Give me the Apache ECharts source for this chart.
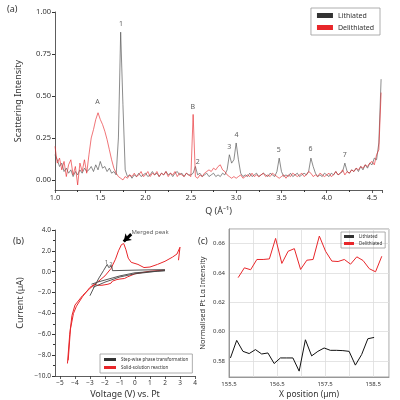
<!DOCTYPE html>
<html><head><meta charset="utf-8">
<script src="https://cdn.jsdelivr.net/npm/echarts@6/dist/echarts.min.js"></script>
<style>html,body{margin:0;padding:0;background:#fff}#c{width:400px;height:400px}</style>
</head><body><div id="c"></div>
<script>
// (a) regular Q sampling, step 0.025 from 1.0 to 4.6
const qs = Array.from({length:145},(_,i)=>+(1+0.025*i).toFixed(3));
const lithA = [
0.15,0.12,0.08,0.10,0.05,0.07,0.04,0.06,0.02,0.05,
0.03,0.06,0.04,0.07,0.05,0.06,0.08,0.05,0.09,0.06,
0.11,0.07,0.08,0.05,0.07,0.04,0.05,0.03,0.25,0.88,
0.45,0.06,0.02,0.03,0.01,0.03,0.02,0.04,0.02,0.03,
0.04,0.02,0.03,0.05,0.03,0.04,0.02,0.04,0.03,0.05,
0.03,0.04,0.02,0.04,0.05,0.03,0.04,0.02,0.04,0.03,
0.03,0.04,0.08,0.03,0.04,0.02,0.03,0.04,0.02,0.03,
0.04,0.02,0.03,0.02,0.04,0.03,0.06,0.15,0.10,0.12,
0.22,0.12,0.04,0.02,0.03,0.02,0.04,0.02,0.03,0.04,
0.02,0.03,0.04,0.03,0.02,0.04,0.03,0.02,0.05,0.13,
0.05,0.02,0.03,0.02,0.04,0.02,0.03,0.04,0.02,0.03,
0.04,0.03,0.05,0.13,0.08,0.04,0.02,0.03,0.02,0.04,
0.03,0.02,0.04,0.03,0.05,0.03,0.04,0.05,0.10,0.05,
0.04,0.06,0.05,0.07,0.05,0.08,0.06,0.09,0.07,0.10,
0.09,0.13,0.12,0.22,0.60];
const delithA = [
0.20,0.10,0.13,0.06,0.11,0.02,0.09,0.12,0.03,0.08,
-0.03,0.10,0.05,0.12,0.04,0.15,0.25,0.30,0.36,0.40,
0.36,0.33,0.29,0.24,0.18,0.12,0.07,0.04,0.02,0.01,
0.00,0.02,0.01,0.03,0.02,0.04,0.02,0.03,0.05,0.02,
0.03,0.05,0.02,0.04,0.03,0.05,0.02,0.04,0.03,0.05,
0.02,0.04,0.03,0.05,0.02,0.04,0.03,0.02,0.04,0.03,
0.02,0.39,0.02,0.01,0.03,0.02,0.04,0.05,0.06,0.05,
0.07,0.06,0.08,0.09,0.06,0.05,0.03,0.02,0.01,0.02,
0.01,0.02,0.03,0.01,0.02,0.03,0.02,0.04,0.02,0.03,
0.02,0.03,0.04,0.02,0.03,0.02,0.04,0.03,0.02,0.01,
0.02,0.03,0.01,0.03,0.02,0.04,0.03,0.02,0.03,0.04,
0.02,0.03,0.05,0.04,0.02,0.03,0.02,0.04,0.03,0.02,
0.03,0.04,0.02,0.03,0.05,0.03,0.04,0.06,0.03,0.05,
0.04,0.06,0.05,0.07,0.06,0.08,0.07,0.09,0.08,0.10,
0.11,0.09,0.15,0.18,0.52];
const peakNames = ['A','1','B','2','3','4','5','6','7'];
const peakQ = [1.47,1.73,2.52,2.575,2.925,3.005,3.47,3.82,4.2];
const peakY = [0.44,0.90,0.41,0.08,0.17,0.24,0.15,0.16,0.12];

// (b) cyclic voltammetry
const voltTicks = [-5,-4,-3,-2,-1,0,1,2,3,4];
const redCV1 = [[-4.5,-8.8],[-4.35,-6.0],[-4.2,-4.2],[-4.0,-3.2],[-3.5,-2.3],[-3.0,-1.6],[-2.5,-1.0],[-2.0,-0.4],[-1.6,0.3],[-1.3,1.2],[-1.1,2.0],[-0.9,2.6],[-0.75,2.7],[-0.6,2.1],[-0.45,1.3],[-0.25,0.9],[0.2,0.7],[0.6,0.4],[1.0,0.45],[1.5,0.7],[2.0,1.0],[2.5,1.4],[2.8,1.7],[3.0,2.35],[2.9,1.1]];
const redCV2 = [[2.0,0.15],[1.0,0.05],[0.0,-0.2],[-0.5,-0.5],[-0.7,-0.65],[-1.0,-0.7],[-1.2,-0.75],[-1.5,-0.9],[-1.6,-1.1],[-1.8,-1.2],[-2.2,-1.3],[-2.5,-1.3],[-2.7,-1.2],[-3.0,-1.5],[-3.5,-2.4],[-3.9,-3.3],[-4.1,-4.0],[-4.3,-5.5],[-4.45,-8.5]];
const blackCV1 = [[-3.0,-2.3],[-2.7,-1.4],[-2.4,-0.6],[-2.1,0.1],[-1.85,0.7],[-1.75,0.4],[-1.65,0.3],[-1.55,0.55],[-1.5,0.1],[0,0.15],[1.0,0.18],[2.0,0.2]];
const blackCV2 = [[2.0,0.1],[1.0,0.0],[0.0,-0.1],[-1.0,-0.4],[-2.0,-0.8],[-2.5,-1.0],[-2.9,-1.2]];
const blackCV3 = [[-2.8,-1.5],[-2.0,-1.0],[-1.0,-0.5],[0,-0.2],[1.5,0.05],[2.0,0.1]];
const cvLabels = [['1',-1.9,0.95],['2',-1.6,0.7],['Merged peak',1.0,3.75]];

// (c) Pt La intensity
const xRed = [155.69,155.82,155.95,156.08,156.21,156.34,156.47,156.60,156.73,156.86,156.99,157.12,157.25,157.38,157.51,157.64,157.77,157.90,158.03,158.16,158.29,158.42,158.55,158.68];
const redC = [0.6368,0.6435,0.6422,0.6492,0.6492,0.6496,0.6636,0.6465,0.6548,0.6566,0.6424,0.6487,0.6492,0.6652,0.6548,0.6481,0.6478,0.6492,0.6460,0.6510,0.6485,0.6429,0.6408,0.6514];
const xBlack = [155.53,155.66,155.79,155.92,156.05,156.18,156.31,156.44,156.57,156.70,156.83,156.96,157.09,157.22,157.35,157.48,157.61,157.74,157.87,158.00,158.13,158.26,158.39,158.52];
const blackC = [0.5820,0.5940,0.5865,0.5850,0.5877,0.5847,0.5854,0.5782,0.5820,0.5820,0.5820,0.5730,0.5944,0.5834,0.5865,0.5888,0.5872,0.5872,0.5870,0.5865,0.5771,0.5843,0.5951,0.5960];

const F = 'Noto Sans';
const RED = '#e8262a', BLK = '#333';
const minus = s => String(s).replace('-', '\u2212');
const axLine = {onZero:false,lineStyle:{color:'#333',width:0.8}};
const tick = {length:3,lineStyle:{color:'#333',width:0.8}};
const lab = {color:'#333',fontSize:7.5,fontFamily:F,margin:4};

const chart = echarts.init(document.getElementById('c'));
chart.setOption({
  animation:false,
  textStyle:{fontFamily:F},
  title:[
    {text:'(a)',left:2,top:0,textStyle:{fontSize:9,fontWeight:'normal',color:'#333'}},
    {text:'(b)',left:8,top:232,textStyle:{fontSize:9,fontWeight:'normal',color:'#333'}},
    {text:'(c)',left:193,top:232,textStyle:{fontSize:9,fontWeight:'normal',color:'#333'}}
  ],
  legend:[
    {data:['Lithiated','Delithiated'],orient:'vertical',right:20,top:8,itemWidth:16,itemHeight:5,itemGap:5,
     borderColor:'#999',borderWidth:0.8,padding:[4,6],icon:'rect',textStyle:{fontSize:7,color:'#333'}},
    {data:['Step-wise phase transformation','Solid-solution reaction'],orient:'vertical',left:100,top:354,itemWidth:12,itemHeight:3,itemGap:3,
     borderColor:'#999',borderWidth:0.8,padding:[3,4],icon:'rect',textStyle:{fontSize:4.5,color:'#333'}},
    {data:['Lithiated','Delithiated'],orient:'vertical',left:341,top:232,itemWidth:10,itemHeight:3,itemGap:2,
     borderColor:'#999',borderWidth:0.8,padding:[2,3],icon:'rect',textStyle:{fontSize:4.5,color:'#333'}}
  ],
  grid:[
    {left:55,right:18,top:12,bottom:210},
    {left:55,right:205,top:230,bottom:21},
    {left:229,right:11,top:229,bottom:22,show:true,borderColor:'#888',borderWidth:0.8}
  ],
  xAxis:[
    {gridIndex:0,type:'value',min:1.0,max:4.61,interval:0.5,axisLine:axLine,axisTick:tick,
     minorTick:{show:true,splitNumber:2,length:2},splitLine:{show:false},
     axisLabel:Object.assign({},lab,{showMaxLabel:false,formatter:v=>v.toFixed(1)}),
     name:'Q (Å\u207B\u00B9)',nameLocation:'middle',nameGap:17,nameTextStyle:{fontSize:9,color:'#333'}},
    {gridIndex:1,type:'value',min:-5.33,max:4,axisLine:axLine,
     axisTick:Object.assign({customValues:voltTicks},tick),splitLine:{show:false},
     axisLabel:Object.assign({},lab,{fontSize:6.5,customValues:voltTicks,formatter:v=>minus(v)}),
     name:'Voltage (V) vs. Pt',nameLocation:'middle',nameGap:14,nameTextStyle:{fontSize:9,color:'#333'}},
    {gridIndex:2,type:'value',min:155.5,max:158.83,axisLine:{onZero:false,lineStyle:{color:'#888',width:0.8}},axisTick:{show:false},
     splitLine:{show:true,lineStyle:{color:'#ddd',width:0.8}},
     axisLabel:Object.assign({},lab,{fontSize:6,showMaxLabel:false,formatter:v=>(Math.abs(v%1-0.5)<1e-6?v.toFixed(1):'')}),
     name:'X position (µm)',nameLocation:'middle',nameGap:13,nameTextStyle:{fontSize:8.5,color:'#333'}}
  ],
  yAxis:[
    {gridIndex:0,type:'value',min:-0.06,max:1,axisLine:{show:true,onZero:false,lineStyle:{color:'#333',width:0.8}},
     axisTick:{show:true,length:3,customValues:[0,0.25,0.5,0.75,1]},splitLine:{show:false},
     axisLabel:Object.assign({},lab,{customValues:[0,0.25,0.5,0.75,1],formatter:v=>v.toFixed(2)}),
     name:'Scattering Intensity',nameLocation:'middle',nameGap:32,nameTextStyle:{fontSize:9,color:'#333'}},
    {gridIndex:1,type:'value',min:-10,max:4,interval:2,axisLine:{show:true,onZero:false,lineStyle:{color:'#333',width:0.8}},
     axisTick:{show:true,length:3},minorTick:{show:true,splitNumber:2,length:2},splitLine:{show:false},
     axisLabel:Object.assign({},lab,{fontSize:6.5,formatter:v=>minus(v.toFixed(1))}),
     name:'Current (µA)',nameLocation:'middle',nameGap:30,nameTextStyle:{fontSize:9,color:'#333'}},
    {gridIndex:2,type:'value',min:0.569,max:0.670,splitNumber:5,axisLine:{show:true,onZero:false,lineStyle:{color:'#888',width:0.8}},
     axisTick:{show:false},splitLine:{show:true,lineStyle:{color:'#ddd',width:0.8}},
     axisLabel:Object.assign({},lab,{fontSize:6,showMinLabel:false,showMaxLabel:false,formatter:v=>v.toFixed(2)}),
     name:'Normalised Pt L\u03B1 Intensity',nameLocation:'middle',nameGap:22,nameTextStyle:{fontSize:7.5,color:'#333'}}
  ],
  series:[
    {name:'Lithiated',type:'line',xAxisIndex:0,yAxisIndex:0,showSymbol:false,color:BLK,
     lineStyle:{width:0.8,color:'#555',opacity:0.85},data:qs.map((q,i)=>[q,lithA[i]])},
    {name:'Delithiated',type:'line',xAxisIndex:0,yAxisIndex:0,showSymbol:false,color:RED,
     lineStyle:{width:0.8,color:RED,opacity:0.8},data:qs.map((q,i)=>[q,delithA[i]])},
    {type:'scatter',xAxisIndex:0,yAxisIndex:0,symbolSize:0,silent:true,
     label:{show:true,position:'top',distance:1,formatter:p=>peakNames[p.dataIndex],fontSize:7,color:'#333'},
     data:peakQ.map((q,i)=>[q,peakY[i]])},
    {name:'Solid-solution reaction',type:'line',xAxisIndex:1,yAxisIndex:1,showSymbol:false,color:RED,
     lineStyle:{width:1,color:RED},data:redCV1,
     markLine:{silent:true,symbol:['none','arrow'],symbolSize:7,lineStyle:{color:'#000',width:3,type:'solid'},label:{show:false},
       data:[[{coord:[-0.25,3.6]},{coord:[-0.75,2.9]}]]}},
    {name:'Solid-solution reaction',type:'line',xAxisIndex:1,yAxisIndex:1,showSymbol:false,color:RED,
     lineStyle:{width:1,color:RED},data:redCV2},
    {name:'Step-wise phase transformation',type:'line',xAxisIndex:1,yAxisIndex:1,showSymbol:false,color:BLK,
     lineStyle:{width:0.9,color:'#444'},data:blackCV1},
    {name:'Step-wise phase transformation',type:'line',xAxisIndex:1,yAxisIndex:1,showSymbol:false,color:BLK,
     lineStyle:{width:0.9,color:'#444'},data:blackCV2},
    {name:'Step-wise phase transformation',type:'line',xAxisIndex:1,yAxisIndex:1,showSymbol:false,color:BLK,
     lineStyle:{width:0.9,color:'#444'},data:blackCV3},
    {type:'scatter',xAxisIndex:1,yAxisIndex:1,symbolSize:0,silent:true,
     label:{show:true,position:'inside',formatter:p=>p.value[2],fontSize:6,color:'#333'},
     data:cvLabels.map(l=>[l[1],l[2],l[0]])},
    {name:'Lithiated',type:'line',xAxisIndex:2,yAxisIndex:2,showSymbol:false,color:'#111',
     lineStyle:{width:1,color:'#111'},data:xBlack.map((x,i)=>[x,blackC[i]])},
    {name:'Delithiated',type:'line',xAxisIndex:2,yAxisIndex:2,showSymbol:false,color:RED,
     lineStyle:{width:1,color:RED},data:xRed.map((x,i)=>[x,redC[i]])}
  ]
});
</script></body></html>
